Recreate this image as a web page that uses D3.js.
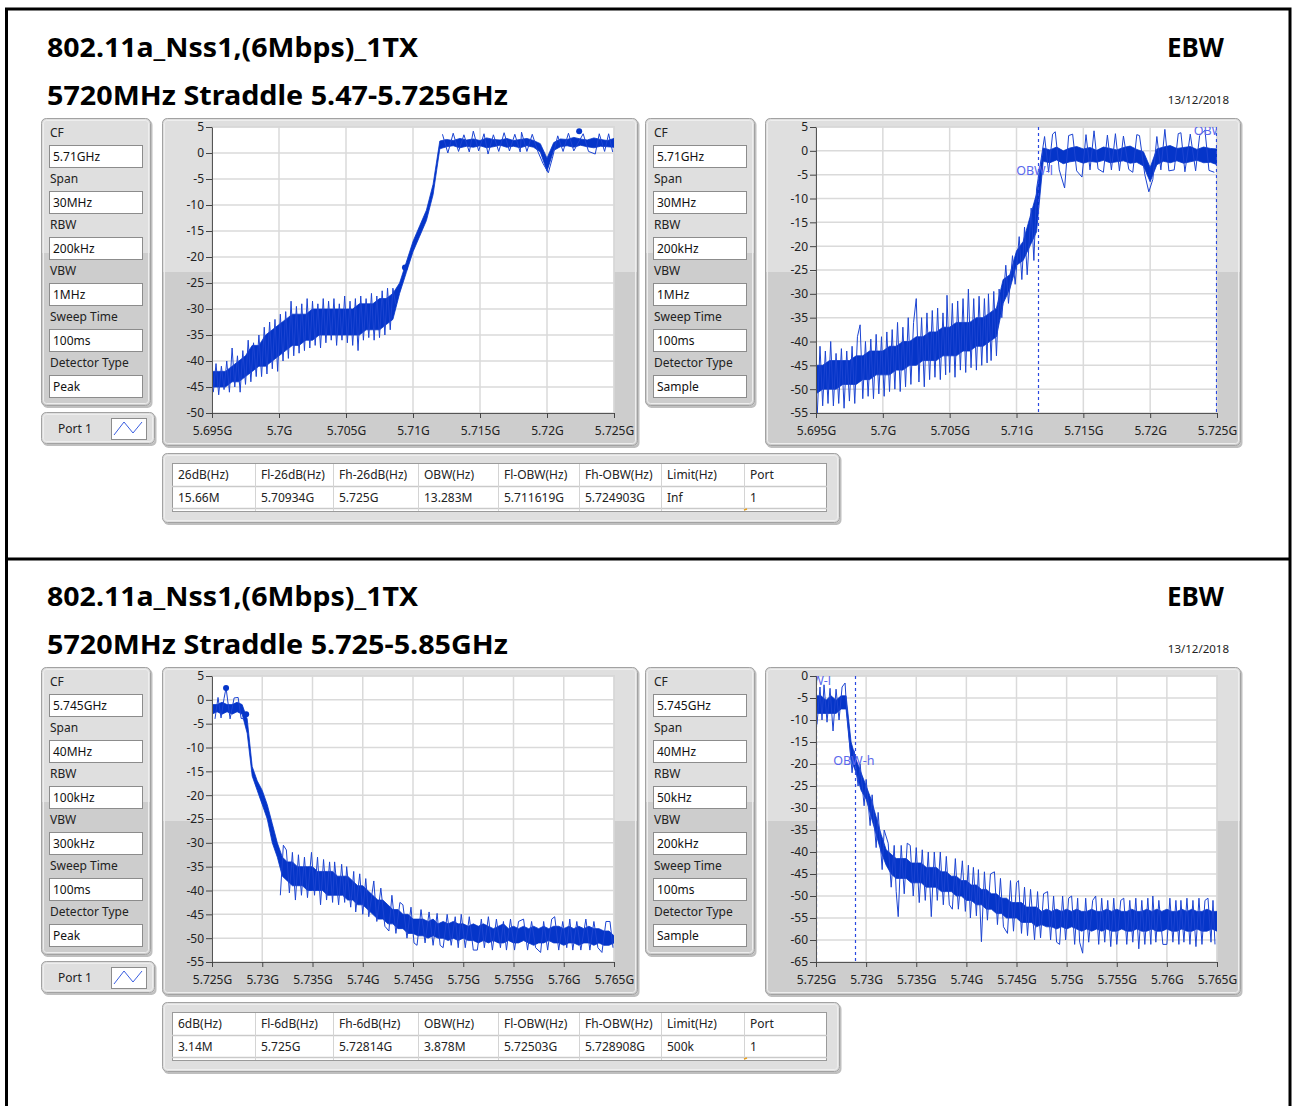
<!DOCTYPE html>
<html>
<head>
<meta charset="utf-8">
<script src="https://cdn.jsdelivr.net/npm/d3@7"></script>
<style>
body { margin: 0; background: #fff; }
svg text { font-family: "Noto Sans", "DejaVu Sans", sans-serif; }
</style>
</head>
<body>
<svg id="page" width="1292" height="1106"></svg>
<script>
// ---- text / settings ----
var titleMode = '802.11a_Nss1,(6Mbps)_1TX';
var titleBands = ['5720MHz Straddle 5.47-5.725GHz', '5720MHz Straddle 5.725-5.85GHz'];
var testName = 'EBW';
var reportDate = '13/12/2018';
var settingLabels = ['CF', 'Span', 'RBW', 'VBW', 'Sweep Time', 'Detector Type'];
var settingsTL = ['5.71GHz', '30MHz', '200kHz', '1MHz', '100ms', 'Peak'];
var settingsTR = ['5.71GHz', '30MHz', '200kHz', '1MHz', '100ms', 'Sample'];
var settingsBL = ['5.745GHz', '40MHz', '100kHz', '300kHz', '100ms', 'Peak'];
var settingsBR = ['5.745GHz', '40MHz', '50kHz', '200kHz', '100ms', 'Sample'];
var tableHeadTop = ['26dB(Hz)', 'Fl-26dB(Hz)', 'Fh-26dB(Hz)', 'OBW(Hz)', 'Fl-OBW(Hz)', 'Fh-OBW(Hz)', 'Limit(Hz)', 'Port'];
var tableRowTop = ['15.66M', '5.70934G', '5.725G', '13.283M', '5.711619G', '5.724903G', 'Inf', '1'];
var tableHeadBottom = ['6dB(Hz)', 'Fl-6dB(Hz)', 'Fh-6dB(Hz)', 'OBW(Hz)', 'Fl-OBW(Hz)', 'Fh-OBW(Hz)', 'Limit(Hz)', 'Port'];
var tableRowBottom = ['3.14M', '5.725G', '5.72814G', '3.878M', '5.72503G', '5.728908G', '500k', '1'];

// ---- axes ----
var freqTicksTop = [5.695, 5.7, 5.705, 5.71, 5.715, 5.72, 5.725];
var freqTicksBottom = [5.725, 5.73, 5.735, 5.74, 5.745, 5.75, 5.755, 5.76, 5.765];
var dbTicksTL = [5, 0, -5, -10, -15, -20, -25, -30, -35, -40, -45, -50];
var dbTicksTR = [5, 0, -5, -10, -15, -20, -25, -30, -35, -40, -45, -50, -55];
var dbTicksBL = [5, 0, -5, -10, -15, -20, -25, -30, -35, -40, -45, -50, -55];
var dbTicksBR = [0, -5, -10, -15, -20, -25, -30, -35, -40, -45, -50, -55, -60, -65];

// ---- traces: core band (upper / lower) every 0.5 MHz from sweep start, dBm ----
// spikes: [MHz from sweep start, dBm] excursions
var sweepStartTop = 5.695, sweepStartBottom = 5.725, sweepStepMHz = 0.5;

var traceTLHi = [-42,-42,-42,-41,-40,-39,-37,-37,-35,-34,
  -33,-32,-31,-31,-31,-30,-30,-30,-30,-30,
  -30,-30,-29,-29,-29,-28,-28,-27,-25,-21,
  -17,-14,-11,-6,2.3,2.6,2.4,2.8,2.5,2.7,
  2.4,2.9,2.6,2.5,2.8,2.4,2.6,2.8,2.4,1.8,
  -1,2.0,2.7,2.6,3.0,2.7,2.5,2.9,2.6,2.4,
  2.8];
var traceTLLo = [-45,-45,-45,-44,-44,-43,-42,-41,-41,-40,
  -39,-38,-37,-37,-36,-36,-35,-35,-35,-35,
  -35,-35,-35,-34,-34,-34,-33,-32,-27,-23,
  -19,-16,-13,-8,0.8,1.2,1.4,1.0,1.3,1.1,
  1.4,1.0,1.2,1.5,1.1,1.3,1.0,1.4,1.1,0.2,
  -3.5,0.5,1.2,1.4,1.1,1.5,1.2,1.0,1.3,1.2,
  1.1];
var spikesTL = [[0.1,-46],[0.3,-40.5],[0.5,-46.5],[0.7,-41],[0.9,-45.5],[1.1,-40],[1.3,-46],[1.5,-37.5],
  [1.7,-45],[1.9,-39],[2.1,-46],[2.3,-38],[2.5,-44.5],[2.7,-36],[2.9,-44],[3.1,-36.5],[3.3,-43],
  [3.5,-35],[3.7,-43],[3.9,-33.5],[4.1,-42.5],[4.3,-32.5],[4.5,-41.5],[4.7,-32],[4.9,-42],[5.1,-31],
  [5.3,-40],[5.5,-30.5],[5.7,-39.5],[5.9,-28.5],[6.1,-39],[6.3,-29.5],[6.5,-38.5],[6.7,-29],[6.9,-38],
  [7.1,-28],[7.3,-37.5],[7.5,-28.5],[7.7,-37],[7.9,-29],[8.1,-37.5],[8.3,-28],[8.5,-36.5],[8.7,-28.5],
  [8.9,-36],[9.1,-28],[9.3,-37],[9.5,-29],[9.7,-36],[9.9,-27.5],[10.1,-36.5],[10.3,-28.5],[10.5,-37],
  [10.7,-28],[10.9,-38],[11.1,-27.5],[11.3,-36],[11.5,-28],[11.7,-35.5],[11.9,-27],[12.1,-36],
  [12.3,-27.5],[12.5,-35.5],[12.7,-26.5],[12.9,-35],[13.1,-26],[13.3,-34],[13.5,-26],[13.7,-29],
  [17.2,3.6],[17.6,0],[18.0,3.8],[18.4,0.3],[18.8,3.5],[19.2,0.2],[19.5,4.2],[19.9,0.4],[20.3,3.7],
  [20.6,-0.2],[21.0,3.5],[21.4,0.3],[21.8,3.9],[22.2,0.4],[22.6,3.6],[23.0,0.2],[23.1,4],[23.5,0.3],
  [23.9,3.6],[24.3,0.4],[24.7,-2],[25.1,-3.8],[25.4,-1],[25.8,3.3],[26.2,0.3],[26.6,3.8],[27.0,0.4],
  [27.7,3.7],[28.1,0.3],[28.6,-0.2],[28.9,3.7],[29.3,0.3],[29.6,3.7],[29.9,0.2]];
var markersTL = [[27.4, 4.2], [14.4, -22]];

var traceTRHi = [-45,-45,-44,-44,-44,-44,-43,-43,-42,-42,
  -42,-41,-41,-40,-40,-39,-39,-38,-38,-37,
  -37,-36,-36,-36,-35,-35,-34,-33,-27,-26,
  -21,-19,-14,-9,0.6,0.2,0.8,0.0,0.6,0.9,
  0.4,0.7,0.1,0.8,0.5,0.2,0.7,1.0,0.3,-0.2,
  -3.5,0.4,0.8,1.1,0.5,0.7,0.9,0.3,0.8,0.5,
  0.4];
var traceTRLo = [-51,-50,-50,-50,-49,-49,-49,-48,-48,-47,
  -47,-47,-46,-46,-45,-45,-44,-44,-44,-43,
  -43,-43,-42,-42,-41,-41,-40,-39,-32,-29,
  -24,-23,-20,-17,-2.2,-2.5,-1.9,-2.7,-2.3,-2.1,
  -2.6,-2.2,-2.4,-2.0,-2.5,-2.3,-2.1,-2.6,-2.4,-3.2,
  -6.5,-2.9,-2.2,-2.5,-2.1,-2.6,-2.3,-2.0,-2.5,-2.4,
  -2.9];
var spikesTR = [[0.1,-55],[0.3,-41],[0.5,-53.5],[0.7,-42],[0.9,-53],[1.1,-40],[1.3,-53.5],[1.5,-42.5],
  [1.7,-53],[1.9,-41.5],[2.1,-54],[2.3,-42],[2.5,-52.5],[2.7,-41],[2.9,-53],[3.1,-39],[3.3,-36.5],
  [3.5,-52],[3.7,-40],[3.9,-51.5],[4.1,-39.5],[4.3,-52],[4.5,-38.5],[4.7,-51],[4.9,-39],[5.1,-51.5],
  [5.3,-38],[5.5,-50.5],[5.7,-37.5],[5.9,-50],[6.1,-36],[6.3,-50.5],[6.5,-37],[6.7,-49.5],[6.9,-35],
  [7.1,-49],[7.3,-36],[7.5,-31],[7.7,-48.5],[7.9,-35],[8.1,-49.5],[8.3,-34],[8.5,-48],[8.7,-33.5],
  [8.9,-47.5],[9.1,-33],[9.3,-48],[9.5,-34],[9.7,-47],[9.8,-30.3],[10.0,-46.5],[10.2,-32],[10.4,-47.5],
  [10.6,-31.5],[10.8,-46],[11.0,-31],[11.2,-46.5],[11.4,-29],[11.6,-45.5],[11.8,-31],[12.0,-46],
  [12.2,-30.5],[12.4,-45],[12.6,-31],[12.8,-44.5],[12.9,-30],[13.1,-44],[13.3,-29.5],[13.5,-43],
  [13.7,-29],[13.9,-35],[14.2,-24],[14.4,-32],[14.7,-22],[14.9,-28],[15.2,-18],[15.4,-27],[15.6,-16],
  [15.8,-26],[16.1,-12],[16.3,-23],[16.5,-8],
  [17.1,3.0],[17.4,-4.5],[17.7,3.5],[17.9,4],[18.2,-4],[18.6,-7.8],[18.9,3.2],[19.2,3.5],[19.5,-4.2],
  [19.9,-5.5],[20.2,3.4],[20.5,-4],[20.8,4.2],[21.1,-3.8],[21.5,-4.5],[21.8,3.3],[22.1,-4],[22.4,3.6],
  [22.7,-4.2],[23.0,3.1],[23.4,-3.9],[23.7,-4.5],[24.0,3.4],[24.2,3.2],[24.6,-5],[24.9,-8.6],[25.2,-6],
  [25.5,3],[25.8,-4],[26.1,4.5],[26.4,-4.2],[26.8,-4],[27.1,3.6],[27.3,3.8],[27.6,-4.4],[28.0,3.5],
  [28.4,-4.2],[28.7,3.2],[29.1,4.3],[29.4,-4.1],[29.8,-4.5]];
var obwTop = [5.711619, 5.724903];
var obwLabelDbTop = [-4, 4.4];

var traceBLHi = [-1,-1,-0.5,-1,-1,-0.5,-1,-4,-14,-17,
  -19,-22,-26,-30,-33,-34,-34,-35,-35,-35,
  -35,-36,-36,-36,-36,-37,-37,-37,-38,-39,
  -39,-40,-41,-42,-42,-43,-44,-44,-45,-45,
  -46,-46,-46,-46.5,-46,-47,-46.5,-47,-46.5,-47,
  -47,-47.5,-47,-47.5,-47,-47.5,-48,-47.5,-47,-48,
  -47.5,-48,-47.5,-48,-47.5,-48,-47.5,-48,-47.5,-47.5,
  -48,-47.5,-48,-47.5,-48,-47.5,-48,-48,-48.5,-48.5,
  -49.5];
var traceBLLo = [-3,-2.5,-3,-2.5,-3,-2.5,-3,-7,-16,-19,
  -22,-25,-30,-33,-37,-38,-39,-39,-39,-40,
  -40,-40,-40,-41,-41,-41,-41,-42,-42,-43,
  -43,-44,-45,-46,-46,-47,-47,-48,-48,-49,
  -49,-49.5,-49.5,-50,-49.5,-50,-50,-50.5,-50,-50.5,
  -50,-50.5,-50.5,-51,-50.5,-51,-50.5,-51,-51,-50.5,
  -51,-51,-50.5,-51,-51.5,-51,-51,-50.5,-51,-51,
  -51.5,-51,-51,-51.5,-51,-51,-51.5,-51,-51.5,-51.5,
  -51];
var spikesBL = [[0.3,-4],[0.6,0.5],[0.9,-3.8],[1.2,0.3],[1.4,2.5],[1.8,-4],[2.2,0.4],[2.6,0.5],[2.9,-3.9],
  [3.2,-4],[6.8,-41],[7.1,-30.5],[7.4,-31.5],[7.7,-40.5],[8.0,-32],[8.3,-42],[8.6,-32.5],[8.9,-41],
  [9.2,-33],[9.5,-41.5],[9.9,-32],[10.2,-41],[10.5,-33],[10.8,-43],[11.1,-33.5],[11.4,-42],[11.7,-34],
  [12.0,-42.5],[12.2,-34],[12.6,-43],[12.9,-34.5],[13.2,-42.5],[13.4,-35],[13.8,-43.5],[14.1,-36],
  [14.3,-44.5],[14.7,-36.5],[15.0,-45],[15.3,-37.5],[15.6,-45.5],[16.1,-38],[16.4,-46.5],[16.8,-39.5],
  [17.2,-47.5],[17.6,-48.5],[17.9,-41],[18.3,-49],[18.7,-42.5],[19.0,-43],[19.4,-50],[19.8,-43.5],
  [20.1,-51],[20.4,-51.5],[20.8,-44],[21.2,-51],[21.6,-44.5],[22.0,-51.5],[22.4,-44.8],[22.7,-51.5],
  [23.0,-52],[23.4,-45],[23.8,-51.5],[24.2,-45.5],[24.5,-52],[24.8,-45],[25.2,-52],[25.6,-45.5],
  [26.0,-52.5],[26.4,-52.5],[26.8,-46],[27.1,-52],[27.5,-45.5],[27.9,-52.5],[28.3,-46],[28.7,-52],
  [29.0,-46.5],[29.3,-52.5],[29.7,-46],[30.1,-52.5],[30.5,-46.5],[31.0,-46],[31.4,-52.5],[31.8,-46.5],
  [32.2,-52],[32.7,-53],[33.0,-46.5],[33.4,-52.5],[33.8,-46],[34.1,-45.5],[34.5,-52.5],[34.9,-46.5],
  [35.3,-52],[35.6,-46],[35.9,-52.5],[36.3,-46.5],[36.7,-52.5],[37.2,-46],[37.6,-52.5],[38.0,-46.5],
  [38.4,-52],[38.8,-53],[39.2,-46.5],[39.6,-46.5],[39.9,-52]];
var markersBL = [[1.4, 2.5], [3.4, -3]];

var traceBRHi = [-4.5,-4.5,-5.5,-4.5,-5.5,-4.5,-4.5,-15,-19,-22,
  -25,-28,-32,-36,-39.5,-40.5,-41.5,-41.5,-41.5,-42.5,
  -42.5,-42.5,-43.5,-43.5,-43.5,-44.5,-44.5,-45.5,-45.5,-46.5,
  -46.5,-47.5,-47.5,-48.5,-48.5,-49.5,-49.5,-50.5,-50.5,-51.5,
  -51.5,-51.5,-52.5,-52.5,-52.5,-53.5,-53,-53.5,-53,-53.5,
  -53,-53.5,-53,-53.5,-53.5,-53,-53.5,-53.5,-53,-53.5,
  -53,-53.5,-53.5,-53,-53.5,-53.5,-53,-53.5,-53,-53.5,
  -53,-53.5,-53.5,-53,-53.5,-53,-53.5,-53.5,-53,-53.5,
  -53.5];
var traceBRLo = [-8.5,-8.5,-8.5,-8.5,-8.5,-7.5,-7.5,-19,-22,-26,
  -28,-32,-36,-40,-43,-45,-46,-46,-46,-47,
  -47,-47,-48,-48,-48,-49,-49,-49,-50,-50,
  -51,-51,-52,-52,-53,-53,-54,-54,-55,-55,
  -55,-56,-56,-56,-57,-56.5,-57,-57,-57.5,-57,
  -57.5,-57,-57.5,-58,-57.5,-58,-57.5,-58,-57.5,-58,
  -58,-57.5,-58,-58,-57.5,-58,-58,-57.5,-58,-58,
  -57.5,-58,-58,-57.5,-58,-58,-57.5,-58,-58,-57.5,
  -58];
var spikesBR = [[0.1,-11],[0.4,-2.5],[0.6,-10],[0.8,-2],[1.1,-10.5],[1.4,-2.8],[1.7,-12.5],[2.0,-3],
  [2.3,-10],[2.6,-2.5],[2.9,-1.6],[3.1,-9],[3.3,-14],[3.6,-22],[3.8,-17],[4.2,-25],[4.4,-20],
  [4.8,-29.5],[5.0,-23.5],[5.4,-34],[5.6,-27],[6.0,-39],[6.2,-31],[6.6,-44],[6.8,-35],[7.2,-38],
  [7.5,-48],[7.8,-38.5],[8.0,-49],[8.2,-54.7],[8.5,-38.5],[8.8,-49.5],[9.1,-38],[9.4,-38.5],[9.7,-50],
  [10.0,-39],[10.3,-51.5],[10.6,-39.5],[10.9,-51],[11.2,-40],[11.5,-54.7],[11.8,-40],[12.1,-51],
  [12.4,-40],[12.7,-52],[13.0,-41],[13.3,-52],[13.6,-53],[13.9,-41.5],[14.2,-53],[14.6,-42],[14.9,-53.5],
  [15.2,-43],[15.4,-55],[15.7,-43.5],[16.0,-54.5],[16.2,-44],[16.5,-60.4],[16.8,-44.5],[17.1,-55.5],
  [17.4,-45],[17.8,-44.5],[18.1,-56.5],[18.4,-46],[18.7,-57],[19.1,-58.5],[19.4,-46.5],[19.7,-58],
  [20.0,-47],[20.2,-46.5],[20.5,-58.5],[20.8,-48],[21.1,-59],[21.4,-48.5],[21.8,-60],[22.1,-49],
  [22.4,-59.5],[22.7,-49.5],[23.1,-49],[23.4,-60],[23.7,-50],[24.0,-60.5],[24.3,-61],[24.6,-50],
  [24.9,-60],[25.2,-50.5],[25.5,-50],[25.8,-61],[26.1,-50.5],[26.3,-60.5],[26.6,-63],[26.9,-50.5],
  [27.2,-60.5],[27.6,-51],[27.9,-50],[28.2,-61],[28.5,-50.5],[28.8,-60.5],[29.1,-51],[29.4,-61.5],
  [29.7,-50.5],[30.0,-61],[30.4,-51],[30.7,-50.5],[31.0,-61],[31.3,-51],[31.6,-60.5],[31.9,-50.5],
  [32.2,-62],[32.5,-51],[32.8,-61],[33.1,-50.5],[33.4,-61],[33.6,-50],[33.9,-60.5],[34.2,-51],
  [34.6,-61],[35.0,-61],[35.3,-50.5],[35.6,-60.5],[35.9,-51],[36.2,-61],[36.4,-51],[36.7,-60.5],
  [37.0,-50.5],[37.3,-61],[37.6,-51],[37.9,-61.5],[38.2,-50.5],[38.5,-61],[38.8,-51],[39.1,-50.5],
  [39.4,-60.5],[39.6,-51],[39.8,-61]];
var obwBottom = [5.72503, 5.728908];
var obwLabelDbBottom = [-1, -19];

// ---- drawing ----
var svg = d3.select('#page');
var defs = svg.append('defs');
var clipCount = 0;
var traceColor = '#0535c9';
var spikeColor = '#1c44d2';
var obwColor = '#2a48e0';

var raisedPanel = function(x, y, w, h, splitY) {
	var g = svg.append('g');
	g.append('rect')
		.attr('x', x + 1.5).attr('y', y + 2).attr('width', w).attr('height', h)
		.attr('rx', 5).attr('fill', '#8a8a8a').attr('opacity', 0.55);
	g.append('rect')
		.attr('x', x).attr('y', y).attr('width', w).attr('height', h)
		.attr('rx', 5).attr('fill', '#dfdfdf');
	if (splitY) {
		var id = 'pc' + (clipCount++);
		defs.append('clipPath').attr('id', id).append('rect')
			.attr('x', x).attr('y', y).attr('width', w).attr('height', h).attr('rx', 5);
		g.append('rect')
			.attr('x', x).attr('y', splitY).attr('width', w).attr('height', y + h - splitY)
			.attr('fill', '#cdcdcd').attr('clip-path', 'url(#' + id + ')');
	}
	g.append('rect')
		.attr('x', x + 2.5).attr('y', y + 2.5).attr('width', w - 5).attr('height', h - 5)
		.attr('rx', 3).attr('fill', 'none').attr('stroke', '#eeeeee');
	g.append('rect')
		.attr('x', x + 0.5).attr('y', y + 0.5).attr('width', w - 1).attr('height', h - 1)
		.attr('rx', 5).attr('fill', 'none').attr('stroke', '#a2a2a2');
	return g;
}

var drawTitles = function(dy, band) {
	svg.append('text').attr('x', 47).attr('y', 57 + dy).attr('font-size', 26).attr('font-weight', 700)
		.attr('textLength', 371).attr('lengthAdjust', 'spacingAndGlyphs').text(titleMode);
	svg.append('text').attr('x', 47).attr('y', 105 + dy).attr('font-size', 26).attr('font-weight', 700)
		.attr('textLength', 461).attr('lengthAdjust', 'spacingAndGlyphs').text(band);
	svg.append('text').attr('x', 1224).attr('y', 57 + dy).attr('font-size', 26).attr('font-weight', 700)
		.attr('text-anchor', 'end').text(testName);
	svg.append('text').attr('x', 1229).attr('y', 104 + dy).attr('font-size', 11.5).attr('fill', '#222')
		.attr('text-anchor', 'end').text(reportDate);
}

var drawSettings = function(x, y, values) {
	var g = raisedPanel(x, y, 110, 288, y + 135);
	settingLabels.forEach(function(lab, k) {
		var ry = y + 46 * k;
		g.append('text').attr('x', x + 9).attr('y', ry + 19).attr('font-size', 12).attr('fill', '#222').text(lab);
		g.append('rect').attr('x', x + 8.5).attr('y', ry + 27.5).attr('width', 93).attr('height', 22)
			.attr('fill', '#fff').attr('stroke', '#8c8c8c');
		g.append('text').attr('x', x + 12).attr('y', ry + 43).attr('font-size', 12).attr('fill', '#111').text(values[k]);
	});
}

var drawPort = function(x, y) {
	var g = raisedPanel(x, y, 114, 32, 0);
	g.append('text').attr('x', x + 17).attr('y', y + 21).attr('font-size', 12).attr('fill', '#222').text('Port 1');
	g.append('rect').attr('x', x + 70.5).attr('y', y + 6.5).attr('width', 35).attr('height', 21)
		.attr('fill', '#fff').attr('stroke', '#8c8c8c');
	g.append('polyline')
		.attr('points', [[x + 73, y + 23], [x + 83, y + 10], [x + 92, y + 21], [x + 101, y + 10]].join(' '))
		.attr('fill', 'none').attr('stroke', '#3a5ee0').attr('stroke-width', 1);
}

var drawTable = function(x, y, head, row) {
	raisedPanel(x, y, 678, 70, 0);
	var cols = [172, 255, 333, 418, 498, 579, 661, 744, 827];
	var g = svg.append('g');
	g.append('rect').attr('x', 172.5).attr('y', y + 10.5).attr('width', 654).attr('height', 48)
		.attr('fill', '#fff').attr('stroke', '#9a9a9a');
	[33, 55].forEach(function(r) {
		g.append('line').attr('x1', 172).attr('x2', 827).attr('y1', y + r + 0.5).attr('y2', y + r + 0.5)
			.attr('stroke', '#c9c9c9').attr('stroke-width', 1.5);
	});
	cols.slice(1, -1).forEach(function(cx) {
		g.append('line').attr('x1', cx + 0.5).attr('x2', cx + 0.5).attr('y1', y + 11).attr('y2', y + 58)
			.attr('stroke', '#d4d4d4');
	});
	head.forEach(function(t, i) {
		g.append('text').attr('x', cols[i] + 6).attr('y', y + 26).attr('font-size', 12).attr('fill', '#222').text(t);
		g.append('text').attr('x', cols[i] + 6).attr('y', y + 49).attr('font-size', 12).attr('fill', '#222').text(row[i]);
	});
	g.append('line').attr('x1', 744).attr('x2', 747).attr('y1', y + 57).attr('y2', y + 56)
		.attr('stroke', '#e8a020').attr('stroke-width', 1.5);
}

var drawChart = function(c) {
	raisedPanel(c.px, c.py, 476, 328, c.py + 154);
	var x = d3.scaleLinear().domain([c.fTicks[0], c.fTicks[c.fTicks.length - 1]]).range([c.left, c.right]);
	var y = d3.scaleLinear().domain([c.dbTicks[c.dbTicks.length - 1], c.dbTicks[0]]).range([c.bottom, c.top]);
	var g = svg.append('g');

	g.append('rect').attr('x', c.left).attr('y', c.top).attr('width', c.right - c.left).attr('height', c.bottom - c.top)
		.attr('fill', '#fff').attr('stroke', '#c4c4c4');
	g.selectAll('.vg').data(c.fTicks.slice(1)).enter().append('line')
		.attr('x1', d => x(d)).attr('x2', d => x(d)).attr('y1', c.top).attr('y2', c.bottom)
		.attr('stroke', '#dadada').attr('stroke-width', 1.5);
	g.selectAll('.hg').data(c.dbTicks.slice(0, -1)).enter().append('line')
		.attr('x1', c.left).attr('x2', c.right).attr('y1', d => y(d)).attr('y2', d => y(d))
		.attr('stroke', '#dadada').attr('stroke-width', 1.5);

	var id = 'plot' + (clipCount++);
	defs.append('clipPath').attr('id', id).append('rect')
		.attr('x', c.left).attr('y', c.top).attr('width', c.right - c.left).attr('height', c.bottom - c.top);
	var pg = g.append('g').attr('clip-path', 'url(#' + id + ')');

	var freqOf = function(off) { return c.start + off / 1000; };
	var pts = c.hi.map((h, i) => ({ off: i * sweepStepMHz, hi: h, lo: c.lo[i] }));

	var area = d3.area()
		.x(d => x(freqOf(d.off)))
		.y0(d => y(d.lo))
		.y1(d => y(d.hi));
	pg.append('path').datum(pts).attr('d', area)
		.attr('fill', traceColor).attr('stroke', traceColor).attr('stroke-width', 0.8)
		.attr('stroke-linejoin', 'bevel');

	// the noise excursions, joined in sweep order; a gap in the list starts a new run
	var runs = [];
	c.spikes.forEach(function(s, i) {
		if (i == 0 || s[0] - c.spikes[i - 1][0] > 0.8) runs.push([]);
		runs[runs.length - 1].push(s);
	});
	var noise = d3.line().x(d => x(freqOf(d[0]))).y(d => y(d[1]));
	pg.selectAll('.noise').data(runs).enter().append('path')
		.attr('d', noise).attr('fill', 'none')
		.attr('stroke', spikeColor).attr('stroke-width', 1).attr('stroke-linejoin', 'bevel');

	if (c.markers) {
		pg.selectAll('.mk').data(c.markers).enter().append('circle')
			.attr('cx', d => x(freqOf(d[0]))).attr('cy', d => y(d[1])).attr('r', 3)
			.attr('fill', traceColor);
	}
	if (c.obw) {
		pg.selectAll('.obw').data(c.obw).enter().append('line')
			.attr('x1', d => Math.round(x(d)) + 0.5).attr('x2', d => Math.round(x(d)) + 0.5)
			.attr('y1', c.top).attr('y2', c.bottom)
			.attr('stroke', obwColor).attr('stroke-width', 1.2).attr('stroke-dasharray', '3,3');
		pg.selectAll('.obwl').data(c.obw).enter().append('text')
			.attr('x', d => x(d) - 22).attr('y', (d, i) => y(c.obwDb[i]) + 5)
			.attr('font-size', 12.5).attr('fill', '#5a68ec')
			.text((d, i) => i == 0 ? 'OBW-l' : 'OBW-h');
	}

	var yaxis = d3.axisLeft(y).tickValues(c.dbTicks).tickSize(6).tickSizeOuter(0).tickPadding(2)
		.tickFormat(d => String(d));
	var xaxis = d3.axisBottom(x).tickValues(c.fTicks).tickSize(5).tickSizeOuter(0).tickPadding(8)
		.tickFormat(d => d + 'G');
	var ya = g.append('g').attr('transform', 'translate(' + c.left + ',0)').call(yaxis);
	var xa = g.append('g').attr('transform', 'translate(0,' + c.bottom + ')').call(xaxis);
	[ya, xa].forEach(function(a) {
		a.select('.domain').attr('stroke', '#555');
		a.selectAll('.tick line').attr('stroke', '#444');
		a.selectAll('.tick text').attr('font-size', 12).attr('fill', '#222')
			.attr('font-family', '"Noto Sans", sans-serif');
	});
}

// frames
svg.append('rect').attr('x', 6.5).attr('y', 9).attr('width', 1283.5).attr('height', 1110)
	.attr('fill', 'none').attr('stroke', '#000').attr('stroke-width', 3);
svg.append('line').attr('x1', 6).attr('x2', 1291).attr('y1', 559).attr('y2', 559)
	.attr('stroke', '#000').attr('stroke-width', 3);

var sections = [
	{ dy: 0, band: titleBands[0], left: settingsTL, right: settingsTR, head: tableHeadTop, row: tableRowTop },
	{ dy: 549, band: titleBands[1], left: settingsBL, right: settingsBR, head: tableHeadBottom, row: tableRowBottom }
];
sections.forEach(function(s) {
	drawTitles(s.dy, s.band);
	drawSettings(41, 118 + s.dy, s.left);
	drawSettings(645, 118 + s.dy, s.right);
	drawPort(41, 412 + s.dy);
	drawTable(162, 453 + s.dy, s.head, s.row);
});

drawChart({ px: 162, py: 118, left: 212, right: 614, top: 127, bottom: 413,
	fTicks: freqTicksTop, dbTicks: dbTicksTL, start: sweepStartTop,
	hi: traceTLHi, lo: traceTLLo, spikes: spikesTL, markers: markersTL });
drawChart({ px: 765, py: 118, left: 816, right: 1217, top: 127, bottom: 413,
	fTicks: freqTicksTop, dbTicks: dbTicksTR, start: sweepStartTop,
	hi: traceTRHi, lo: traceTRLo, spikes: spikesTR, obw: obwTop, obwDb: obwLabelDbTop });
drawChart({ px: 162, py: 667, left: 212, right: 614, top: 676, bottom: 962,
	fTicks: freqTicksBottom, dbTicks: dbTicksBL, start: sweepStartBottom,
	hi: traceBLHi, lo: traceBLLo, spikes: spikesBL, markers: markersBL });
drawChart({ px: 765, py: 667, left: 816, right: 1217, top: 676, bottom: 962,
	fTicks: freqTicksBottom, dbTicks: dbTicksBR, start: sweepStartBottom,
	hi: traceBRHi, lo: traceBRLo, spikes: spikesBR, obw: obwBottom, obwDb: obwLabelDbBottom });
</script>
</body>
</html>
